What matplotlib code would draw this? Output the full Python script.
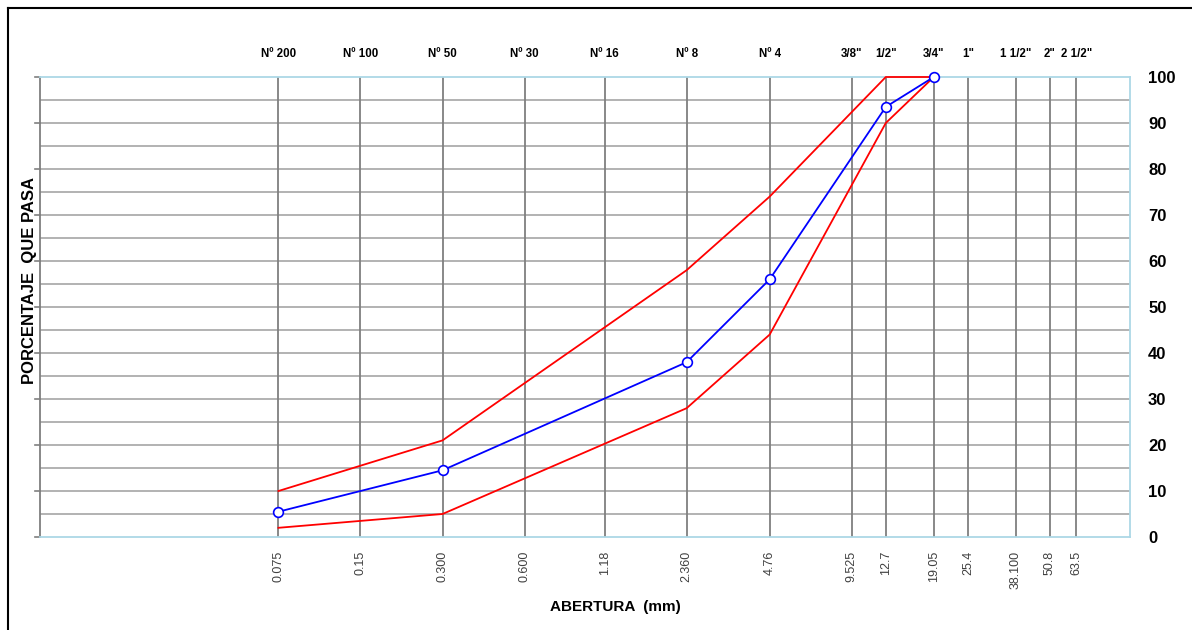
import matplotlib.pyplot as plt
import matplotlib.lines as mlines
import numpy as np

plt.rcParams['font.family'] = ['Liberation Sans', 'DejaVu Sans']

# Sieve openings (mm) and their names
aberturas = [0.075, 0.15, 0.300, 0.600, 1.18, 2.360, 4.76, 9.525, 12.7, 19.05, 25.4, 38.100, 50.8, 63.5]
abertura_txt = ['0.075', '0.15', '0.300', '0.600', '1.18', '2.360', '4.76', '9.525', '12.7',
                '19.05', '25.4', '38.100', '50.8', '63.5']
tamices = ['Nº 200', 'Nº 100', 'Nº 50', 'Nº 30', 'Nº 16', 'Nº 8', 'Nº 4', '3/8"', '1/2"',
           '3/4"', '1"', '1 1/2"', '2"', '2 1/2"']

# Gradation curve and specification limits
x_curva = [0.075, 0.300, 2.360, 4.76, 12.7, 19.05]
pasa = [5.5, 14.5, 38, 56, 93.5, 100]
lim_sup = [10, 21, 58, 74, 100, 100]
lim_inf = [2, 5, 28, 44, 90, 100]

fig = plt.figure(figsize=(11.92, 6.3), dpi=100)
ax = fig.add_axes([40 / 1192, 93 / 630, 1090 / 1192, 460 / 630])

ax.set_xscale('log')
ax.set_xlim(0.01, 100)
ax.set_ylim(0, 100)

# grid: horizontal every 5%, vertical at each sieve
for yv in np.arange(5, 100, 5):
    ax.axhline(yv, color='#a6a6a6', lw=1.2, zorder=1)
for xv in aberturas:
    ax.axvline(xv, color='#7f7f7f', lw=1.3, zorder=1)

ax.plot(x_curva, lim_sup, color='#ff0000', lw=1.3, zorder=3, clip_on=False)
ax.plot(x_curva, lim_inf, color='#ff0000', lw=1.3, zorder=3, clip_on=False)
ax.plot(x_curva, pasa, color='#0000ff', lw=1.3, marker='o', ms=7,
        mfc='white', mec='#0000ff', mew=1.2, zorder=4, clip_on=False)

ax.set_xticks(aberturas)
ax.set_xticklabels(abertura_txt, rotation=90, fontsize=9, color='#404040')
ax.xaxis.set_minor_locator(plt.NullLocator())
ax.tick_params(axis='x', length=0, pad=10)

sec = ax.secondary_xaxis('top')
sec.set_xticks(aberturas)
sec.set_xticklabels(tamices, fontsize=8.3, fontweight='bold')
sec.xaxis.set_minor_locator(plt.NullLocator())
sec.tick_params(axis='x', length=0, pad=12)
sec.spines['top'].set_visible(False)

ax.set_yticks(np.arange(0, 101, 10))
ax.yaxis.tick_right()
ax.tick_params(axis='y', which='major', length=0, labelsize=12, pad=13)
for lbl in ax.get_yticklabels():
    lbl.set_fontweight('bold')

# small ticks on the left edge
for yv in np.arange(0, 101, 10):
    ax.plot([0.0096, 0.01], [yv, yv], color='#7f7f7f', lw=1.2, clip_on=False, zorder=2)

for side in ['top', 'bottom', 'right']:
    ax.spines[side].set_color('#add8e6')
    ax.spines[side].set_linewidth(1.3)
ax.spines['left'].set_color('#7f7f7f')
ax.spines['left'].set_linewidth(1.3)

fig.text(615 / 1192, 1 - 607 / 630, 'ABERTURA  (mm)', ha='center', va='center',
         fontsize=11, fontweight='bold')
fig.text(30 / 1192, 1 - 281 / 630, 'PORCENTAJE  QUE PASA', ha='center', va='center',
         rotation=90, fontsize=12, fontweight='bold')

# frame lines along left and top edge
fig.add_artist(mlines.Line2D([8 / 1192, 8 / 1192], [0, 1 - 8 / 630], color='black', lw=1.5))
fig.add_artist(mlines.Line2D([8 / 1192, 1], [1 - 8 / 630, 1 - 8 / 630], color='black', lw=1.5))

fig.savefig('out.png', dpi=100)
